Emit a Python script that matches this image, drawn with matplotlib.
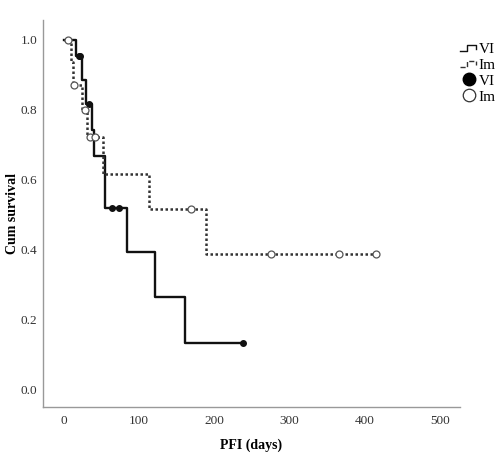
import matplotlib
matplotlib.use("Agg")
import matplotlib.pyplot as plt
from matplotlib.lines import Line2D
from matplotlib.legend_handler import HandlerBase

plt.rcParams['font.family'] = ['Liberation Serif', 'DejaVu Serif']

# Kaplan-Meier steps (days, cumulative survival)
vi_t = [0, 16, 24, 29.5, 37.5, 41, 55.6, 84, 122, 161, 239]
vi_s = [1.0, 0.954, 0.886, 0.817, 0.743, 0.669, 0.52, 0.394, 0.266, 0.135, 0.135]
vi_cens_t = [20, 22, 34, 64, 74, 239]

im_t = [0, 9.5, 13, 24, 31, 53, 113, 189, 415]
im_s = [1.0, 0.938, 0.871, 0.8, 0.724, 0.617, 0.516, 0.388, 0.388]
im_cens_t = [6.5, 14, 28, 35, 42, 169, 276, 366, 415]

legend_labels = ['VI', 'Im', 'VI', 'Im']


def surv_at(t, times, surv):
    # value of the step function at time t
    val = surv[0]
    for ti, si in zip(times, surv):
        if ti <= t:
            val = si
    return val


class StepHandler(HandlerBase):
    # draws the little step glyph that SPSS uses in the legend
    def create_artists(self, legend, orig_handle, xdescent, ydescent,
                       width, height, fontsize, trans):
        w = width * 0.95
        h = height * 0.6
        y0 = height * 0.15
        xs = [0, w * 0.4, w * 0.4, w, w]
        ys = [y0, y0, y0 + h, y0 + h, y0 + h * 0.4]
        ln = Line2D(xs, ys, color=orig_handle.get_color(),
                    linestyle=orig_handle.get_linestyle(),
                    linewidth=orig_handle.get_linewidth(), transform=trans)
        return [ln]


fig = plt.figure(figsize=(4.97, 4.57), dpi=100)
ax = fig.add_axes([0.0865, 0.1094, 0.8391, 0.8468])

ax.step(vi_t, vi_s, where='post', color='#111111', lw=1.7)
ax.step(im_t, im_s, where='post', color='#333333', lw=1.8, linestyle=(0, (1, 1)))

ax.plot(vi_cens_t, [surv_at(t, vi_t, vi_s) for t in vi_cens_t], 'o',
        color='#111111', markersize=4, linestyle='none')
ax.plot(im_cens_t, [surv_at(t, im_t, im_s) for t in im_cens_t], 'o',
        markerfacecolor='white', markeredgecolor='#555555', markeredgewidth=0.9,
        markersize=5, linestyle='none')

ax.set_xlim(-27.3, 527)
ax.set_ylim(-0.0486, 1.057)
ax.set_xticks([0, 100, 200, 300, 400, 500])
ax.set_yticks([0.0, 0.2, 0.4, 0.6, 0.8, 1.0])
ax.set_yticklabels(['0.0', '0.2', '0.4', '0.6', '0.8', '1.0'])
ax.tick_params(length=0, labelsize=9.5, labelcolor='#333333', pad=4)
ax.tick_params(axis='x', pad=6)

for side in ['top', 'right']:
    ax.spines[side].set_visible(False)
for side in ['left', 'bottom']:
    ax.spines[side].set_color('#999999')
    ax.spines[side].set_linewidth(1.0)

ax.set_xlabel('PFI (days)', fontsize=10, fontweight='bold', labelpad=8)
ax.set_ylabel('Cum survival', fontsize=10, fontweight='bold', labelpad=1.5)

h1 = Line2D([], [], color='#111111', lw=1.0)
h2 = Line2D([], [], color='#333333', lw=1.0, linestyle=(0, (1, 1)))
h3 = Line2D([], [], marker='o', color='black', markersize=9, linestyle='none')
h4 = Line2D([], [], marker='o', markerfacecolor='white', markeredgecolor='#333333',
            markersize=9, linestyle='none', markeredgewidth=0.9)
fig.legend([h1, h2, h3, h4], legend_labels, loc='upper left',
           bbox_to_anchor=(0.926, 0.908), frameon=False, fontsize=11,
           handlelength=1.1, handletextpad=0.1, labelspacing=0.15,
           borderaxespad=0, borderpad=0,
           handler_map={h1: StepHandler(), h2: StepHandler()})

fig.savefig('out.png', dpi=100)
